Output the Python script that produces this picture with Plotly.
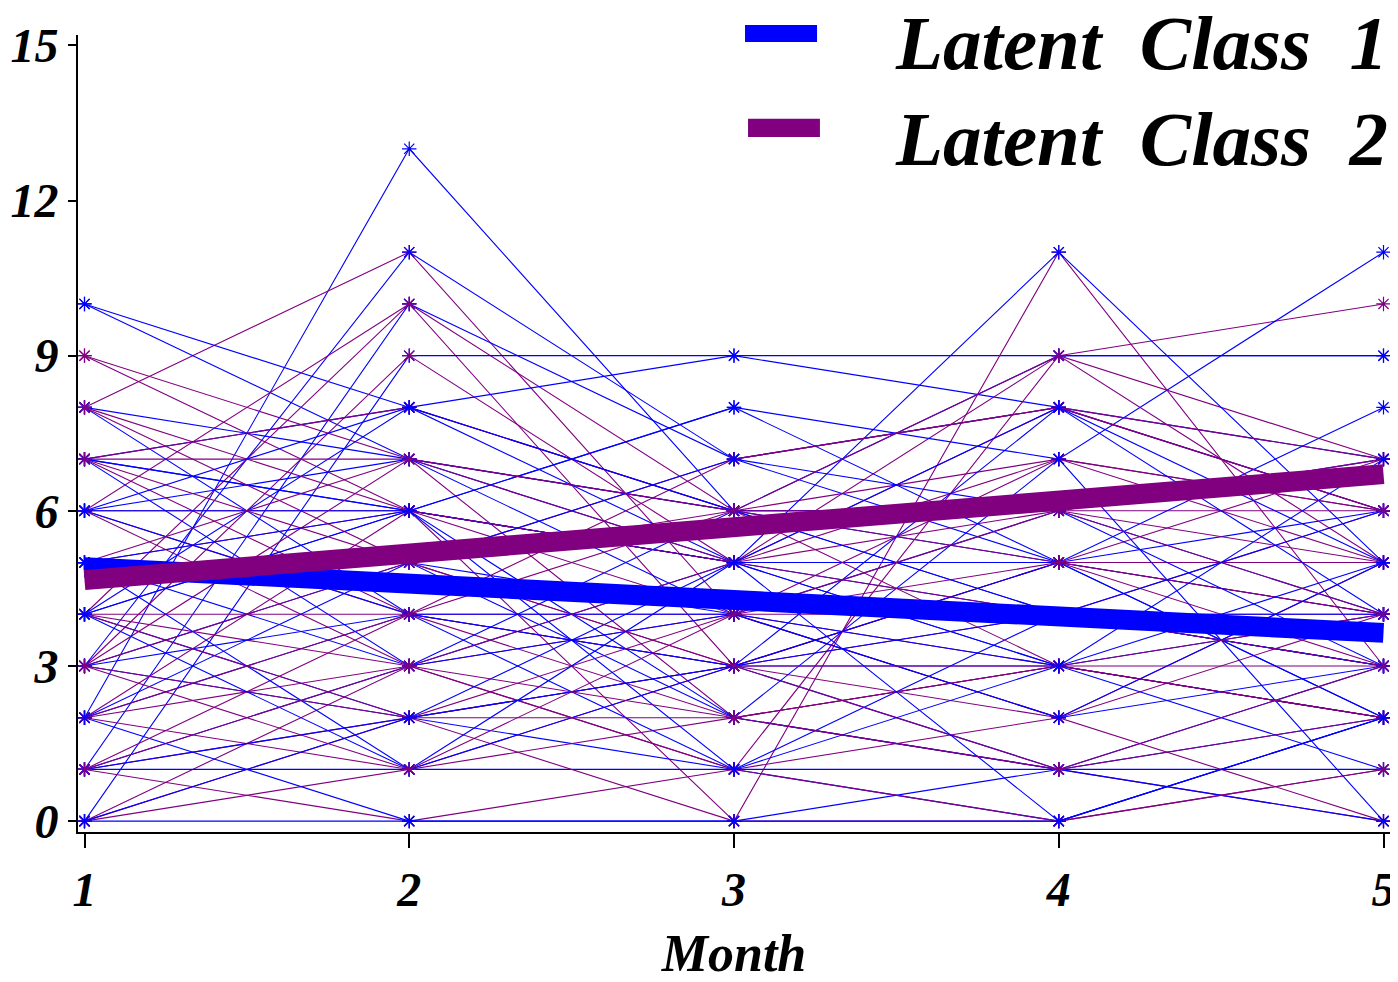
import plotly.graph_objects as go

# ---------------- data ----------------
months = [1, 2, 3, 4, 5]
y_ticks = [0, 3, 6, 9, 12, 15]
legend_labels = ["Latent&nbsp; Class&nbsp; 1", "Latent&nbsp; Class&nbsp; 2"]
x_title = "Month"

class1_mean = [4.91, 4.60, 4.27, 3.95, 3.64]
class2_mean = [4.66, 5.17, 5.69, 6.20, 6.71]

class1_subjects = [
    [2, 13, 6, 5, 4], [10, 8, 6, 4, 3], [10, 7, 5, 3, 2], [3, 11, 7, 5, 2],
    [1, 10, 7, 8, 6], [0, 9, 9, 8, 7], [4, 8, 9, 9, 9], [7, 6, 8, 7, 11],
    [5, 3, 5, 11, 5], [6, 7, 6, 9, 9], [8, 4, 3, 1, 2], [7, 6, 5, 4, 3],
    [6, 6, 5, 5, 8], [3, 2, 1, 0, 2], [2, 0, 0, 1, 3], [1, 1, 1, 1, 0],
    [0, 0, 0, 0, 2], [4, 2, 3, 3, 1], [5, 5, 4, 6, 7], [7, 8, 5, 3, 4],
    [4, 6, 8, 5, 6], [2, 4, 1, 4, 3], [1, 3, 6, 6, 4], [8, 7, 4, 2, 5],
    [3, 5, 2, 1, 1], [6, 4, 3, 5, 2], [5, 1, 3, 4, 6], [4, 6, 2, 7, 0],
    [7, 3, 4, 2, 3], [1, 2, 5, 8, 4], [3, 4, 4, 3, 5], [2, 5, 7, 6, 3],
    [6, 8, 6, 4, 4], [0, 2, 3, 8, 5], [4, 1, 5, 0, 2], [5, 6, 1, 3, 7],
]

class2_subjects = [
    [8, 11, 4, 3, 2], [9, 6, 5, 5, 4], [9, 7, 2, 1, 0], [6, 10, 3, 2, 5],
    [4, 10, 6, 7, 6], [3, 9, 5, 9, 10], [2, 6, 0, 11, 3], [0, 3, 1, 9, 7],
    [7, 7, 6, 6, 6], [6, 6, 5, 8, 7], [7, 4, 3, 5, 5], [8, 5, 7, 8, 6],
    [1, 0, 1, 2, 4], [0, 1, 2, 3, 2], [2, 3, 4, 7, 5], [3, 2, 0, 0, 1],
    [4, 4, 4, 4, 4], [5, 5, 6, 5, 3], [1, 2, 3, 4, 6], [3, 7, 5, 6, 7],
    [6, 4, 2, 3, 3], [2, 1, 3, 5, 4], [7, 8, 6, 3, 2], [4, 3, 5, 7, 6],
    [5, 6, 4, 2, 0], [1, 4, 6, 6, 5], [3, 5, 3, 1, 2], [0, 2, 4, 5, 7],
    [6, 3, 1, 0, 1], [8, 6, 5, 4, 3], [2, 4, 7, 8, 6], [4, 2, 2, 3, 4],
    [5, 7, 6, 9, 5], [7, 5, 3, 3, 2], [3, 1, 4, 6, 4], [1, 3, 2, 1, 3],
]

# ---------------- style ----------------
BLUE = "#0000FF"
PURPLE = "#800080"
FAMILY = "Liberation Serif"


def sfont(size):
    return dict(family=FAMILY, size=size, color="black", weight="bold", style="italic")


fig = go.Figure()


def add_subject(vals, color):
    fig.add_trace(go.Scatter(
        x=months, y=vals, mode="lines+markers",
        line=dict(color=color, width=1.1),
        marker=dict(symbol="asterisk-open", size=12, color=color,
                    line=dict(color=color, width=1.2)),
        showlegend=False, hoverinfo="skip",
    ))


n = max(len(class1_subjects), len(class2_subjects))
for i in range(n):
    if i < len(class1_subjects):
        add_subject(class1_subjects[i], BLUE)
    if i < len(class2_subjects):
        add_subject(class2_subjects[i], PURPLE)

fig.add_trace(go.Scatter(x=months, y=class1_mean, mode="lines",
                         line=dict(color=BLUE, width=20), showlegend=False))
fig.add_trace(go.Scatter(x=months, y=class2_mean, mode="lines",
                         line=dict(color=PURPLE, width=20), showlegend=False))

# manual legend (swatches + text)
legend_rows = [(legend_labels[0], BLUE, 1.0127, 0.9911, 0.5084, 0.5633, 0.990),
               (legend_labels[1], PURPLE, 0.8948, 0.8720, 0.5107, 0.5655, 0.870)]
for label, color, y0, y1, x0, x1, ty in legend_rows:
    fig.add_shape(type="rect", xref="paper", yref="paper",
                  x0=x0, x1=x1, y0=y1, y1=y0, fillcolor=color,
                  line=dict(width=0))
    fig.add_annotation(xref="paper", yref="paper", x=1.0, y=ty,
                       xanchor="right", yanchor="middle", text=label,
                       showarrow=False, font=sfont(77))

axis_common = dict(
    showline=True, linecolor="black", linewidth=2,
    ticks="outside", tickcolor="black", tickwidth=1.5,
    showgrid=False, zeroline=False, tickfont=sfont(48),
    automargin=False,
)

fig.update_xaxes(range=[0.98, 5.02], tickvals=months, ticklen=14,
                 ticklabelstandoff=0,
                 title=dict(text=x_title, font=sfont(52), standoff=27),
                 **axis_common)
fig.update_yaxes(range=[-0.21, 15.2], tickvals=y_ticks, ticklen=8,
                 ticklabelstandoff=0, **axis_common)

# page body has an 8px margin: figure is sized 8px smaller so the plot lands
# at the same screen pixels as the reference
fig.update_layout(
    width=1390, height=974,
    margin=dict(l=70, r=8, t=27, b=150),
    plot_bgcolor="white", paper_bgcolor="white",
    showlegend=False,
)

fig.write_html("out.html")
